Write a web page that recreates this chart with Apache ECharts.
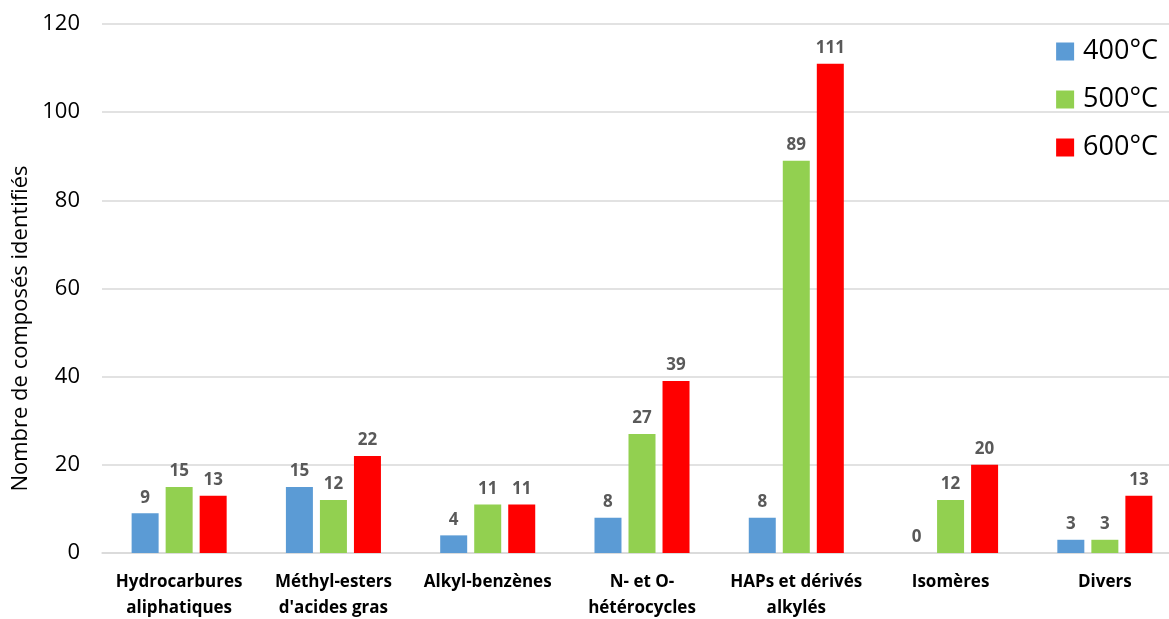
<!DOCTYPE html>
<html><head><meta charset="utf-8">
<script src="https://cdn.jsdelivr.net/npm/echarts@6/dist/echarts.min.js"></script>
<style>html,body{margin:0;padding:0;background:#fff}#c{width:1169px;height:619px}</style>
</head><body><div id="c"></div>
<script>
const categories = ["Hydrocarbures\naliphatiques","Méthyl-esters\nd'acides gras","Alkyl-benzènes","N- et O-\nhétérocycles","HAPs et dérivés\nalkylés","Isomères","Divers"];
const seriesNames = ["400°C","500°C","600°C"];
const values400 = [9,15,4,8,8,0,3];
const values500 = [15,12,11,27,89,12,3];
const values600 = [13,22,11,39,111,20,13];
const yTicks = {min:0,max:120,interval:20};
const colors = ["#5B9BD5","#92D050","#FF0000"];
const FONT = "Open Sans";
const chart = echarts.init(document.getElementById('c'));
const mk = (name, data, color) => ({
  name, type:'bar', data, barWidth:27, barGap:'26%',
  itemStyle:{color},
  label:{show:true,position:'top',distance:7,color:'#595959',fontFamily:FONT,fontWeight:'bold',fontSize:17}
});
chart.setOption({
  animation:false,
  textStyle:{fontFamily:FONT},
  grid:{left:102,width:1080,top:24,bottom:66,containLabel:false,outerBoundsMode:'none'},
  legend:{
    orient:'vertical', right:6, top:33, itemWidth:18, itemHeight:18, itemGap:21,
    icon:'rect', textStyle:{fontFamily:FONT,fontSize:27,lineHeight:26,color:'#000',padding:[0,0,0,4]},
    data:seriesNames
  },
  xAxis:{
    type:'category', data:categories,
    axisLine:{lineStyle:{color:'#d9d9d9',width:1.5}}, axisTick:{show:false},
    axisLabel:{interval:0,color:'#000',fontFamily:FONT,fontWeight:'bold',fontSize:17,lineHeight:26,margin:16}
  },
  yAxis:{
    type:'value', min:yTicks.min, max:yTicks.max, interval:yTicks.interval,
    name:'Nombre de composés identifiés', nameLocation:'middle', nameGap:70,
    nameTextStyle:{fontFamily:FONT,fontSize:22,color:'#000',padding:[0,80,0,0]},
    axisLine:{show:false}, axisTick:{show:false},
    splitLine:{lineStyle:{color:'#d9d9d9',width:1.5}},
    axisLabel:{color:'#000',fontFamily:FONT,fontSize:22,margin:22}
  },
  series:[mk(seriesNames[0],values400,colors[0]),mk(seriesNames[1],values500,colors[1]),mk(seriesNames[2],values600,colors[2])]
});
</script></body></html>
